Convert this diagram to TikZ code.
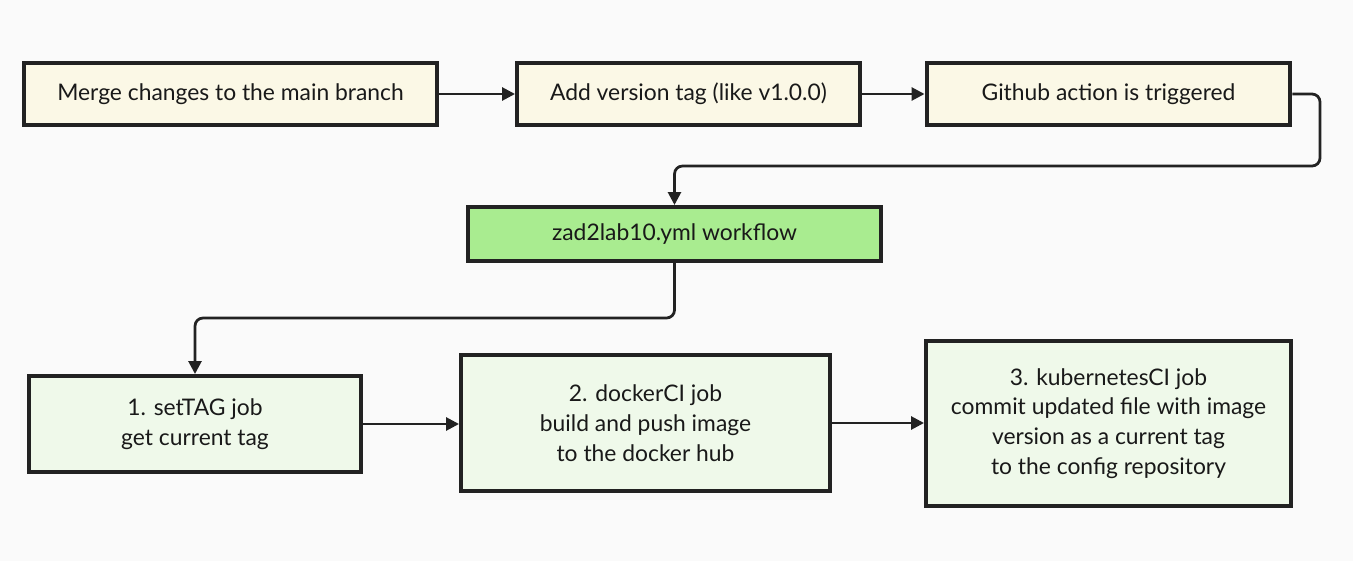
\documentclass[tikz,border=0pt]{standalone}
\usepackage{fontspec}
\setmainfont{Lato}
\usetikzlibrary{arrows.meta}
\definecolor{bgcol}{HTML}{FAFAFA}
\definecolor{startcol}{HTML}{FBF8E6}
\definecolor{flowcol}{HTML}{A9EC90}
\definecolor{jobcol}{HTML}{EFF9EA}
\definecolor{linecol}{HTML}{222222}
\tikzset{
	box/.style={draw=linecol, line width=0.08cm, align=center, inner sep=0pt, text=black!90, font=\fontsize{13}{17}\selectfont},
	startbox/.style={box, fill=startcol, minimum height=1.24cm},
	flowbox/.style={box, fill=flowcol, minimum height=1.08cm},
	jobbox/.style={box, fill=jobcol},
	conn/.style={draw=linecol, line width=0.055cm, rounded corners=0.16cm, -{Triangle[length=0.26cm, width=0.26cm]}}
}

\begin{document}
\begin{tikzpicture}[x=0.02cm, y=-0.02cm]
\fill[bgcol](0,0) rectangle (1353,561);
\node[startbox, minimum width=8.26cm](merge) at (230.5,94) {Merge changes to the main branch};
\node[startbox, minimum width=6.86cm](tag) at (688.5,94) {Add version tag (like v1.0.0)};
\node[startbox, minimum width=7.28cm](git) at (1108.5,94) {Github action is triggered};
\node[flowbox, minimum width=8.26cm](wf) at (674.5,234) {zad2lab10.yml workflow};
\node[jobbox, minimum width=6.64cm, minimum height=1.92cm](set) at (195,424) {1. setTAG job\\get current tag};
\node[jobbox, minimum width=7.38cm, minimum height=2.72cm](docker) at (645.5,423) {2. dockerCI job\\build and push image\\to the docker hub};
\node[jobbox, minimum width=7.30cm, minimum height=3.32cm](kube) at (1108.5,423.5) {3. kubernetesCI job\\commit updated file with image\\version as a current tag\\to the config repository};
\coordinate (c1) at (1320,166);
\coordinate (c2) at (195,318);
\draw[conn](merge.east)--(tag.west);
\draw[conn](tag.east)--(git.west);
\draw[conn](git.east) -| (c1) -| (wf.north);
\draw[conn](wf.south) |- (c2) -- (set.north);
\draw[conn](set.east)--(set.east -| docker.west);
\draw[conn](docker.east)--(docker.east -| kube.west);
\end{tikzpicture}
\end{document}
